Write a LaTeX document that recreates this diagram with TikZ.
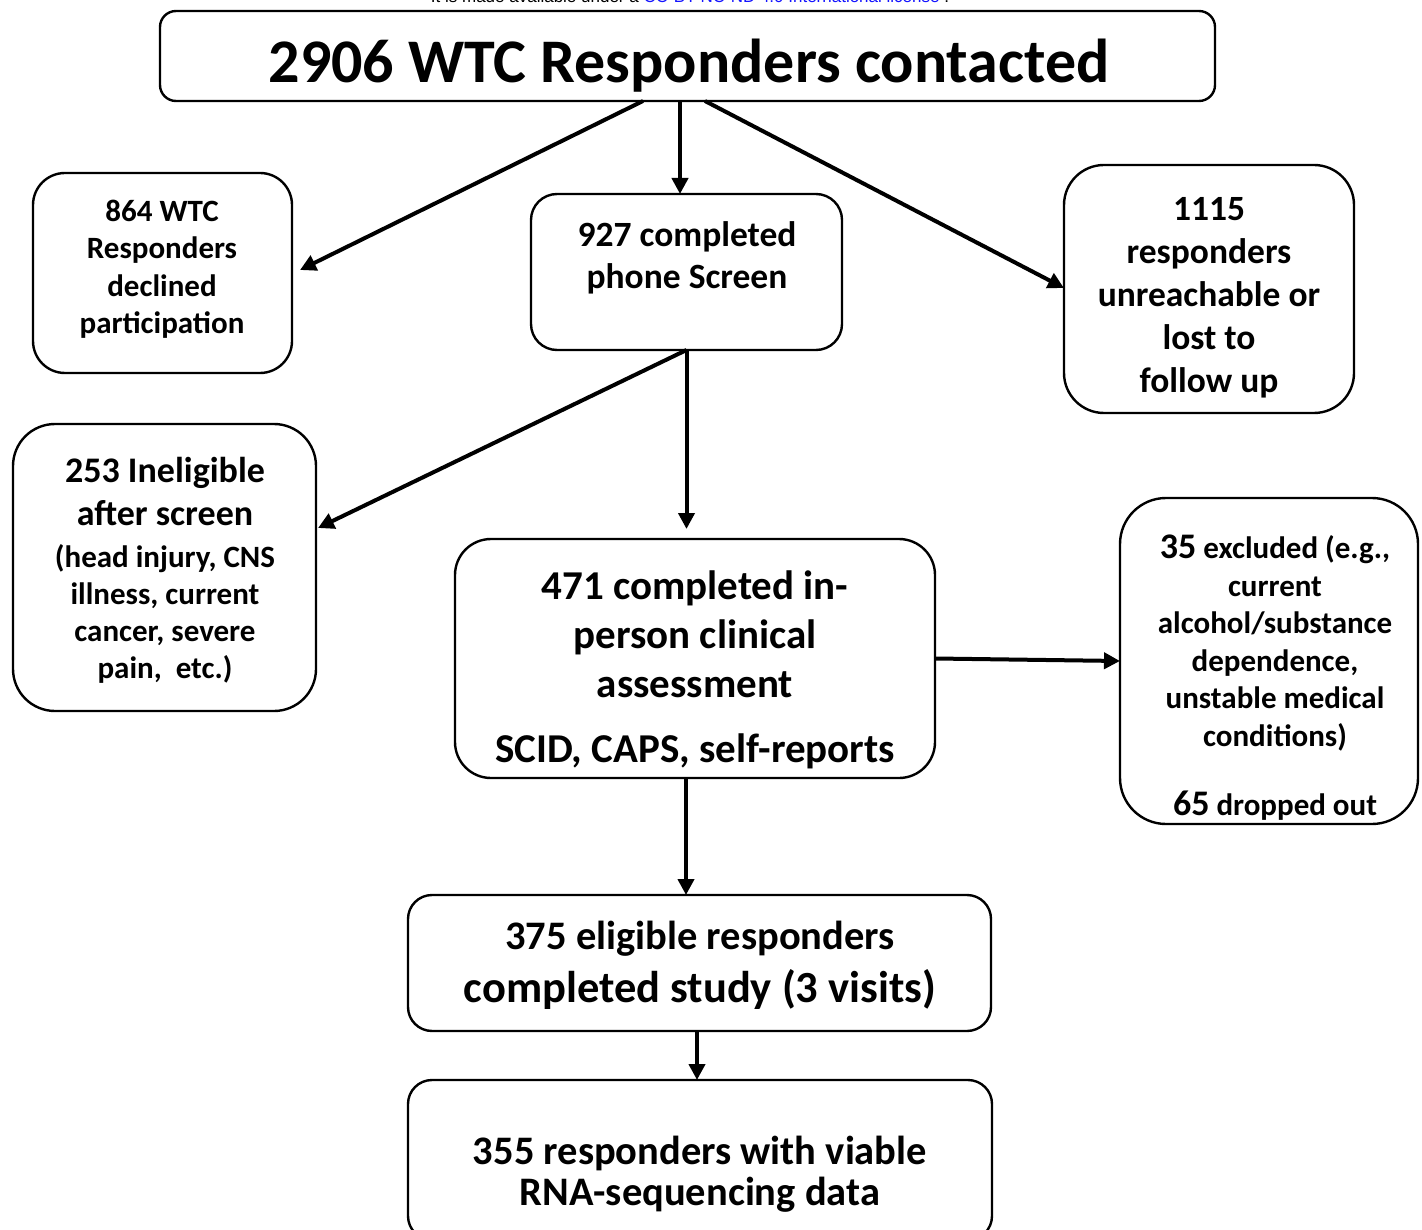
\documentclass[tikz,border=0pt]{standalone}
\usepackage{fontspec}
\setmainfont{Carlito}
\newfontfamily\hdrfont{Liberation Sans}
\usetikzlibrary{arrows.meta,calc}
\definecolor{linkblue}{RGB}{20,20,255}
\begin{document}
\begin{tikzpicture}[x=1pt,y=-1pt,
  box/.style={draw=black, line width=2.4pt, fill=white, inner sep=0pt, outer sep=0pt},
  txt/.style={align=center, inner sep=0pt, text=black},
  arr/.style={line width=4pt, -{Triangle[length=16pt,width=16pt]}}]
\useasboundingbox (0,0) rectangle (1422,1230);
\clip (0,0) rectangle (1422,1230);
\fill[white] (0,0) rectangle (1422,1230);

\node[font=\hdrfont\fontsize{17}{20}\selectfont, anchor=base, inner sep=0pt] (hdr) at (690,3)
  {It is made available under a \textcolor{linkblue}{CC-BY-NC-ND 4.0 International license} .};

% boxes
\node[box, minimum width=1055pt, minimum height=90pt, rounded corners=16pt] (top) at (687.5,56) {};
\node[box, minimum width=259pt, minimum height=200pt, rounded corners=32pt] (b864) at (162.5,273) {};
\node[box, minimum width=311pt, minimum height=156pt, rounded corners=26pt] (b927) at (686.5,272) {};
\node[box, minimum width=290pt, minimum height=248pt, rounded corners=40pt] (b1115) at (1209,289) {};
\node[box, minimum width=303pt, minimum height=287pt, rounded corners=42pt] (b253) at (164.5,567.5) {};
\node[box, minimum width=480pt, minimum height=239pt, rounded corners=36pt] (b471) at (695,658.5) {};
\node[box, minimum width=298pt, minimum height=326pt, rounded corners=46pt] (b35) at (1269,661) {};
\node[box, minimum width=583pt, minimum height=136pt, rounded corners=24pt] (b375) at (699.5,963) {};
\node[box, minimum width=584pt, minimum height=160pt, rounded corners=24pt] (b355) at (700,1160) {};

% texts
\node[txt, font=\fontsize{62}{70}\selectfont\bfseries] (ttop) at (689,66) {2906 WTC Responders contacted};
\node[txt, font=\fontsize{31}{37.5}\selectfont\bfseries] (t864) at (162,269)
  {864 WTC\\Responders\\declined\\participation};
\node[txt, font=\fontsize{35.5}{42}\selectfont\bfseries] (t927) at (687,258)
  {927 completed\\phone Screen};
\node[txt, font=\fontsize{35.5}{43}\selectfont\bfseries] (t1115) at (1209,298)
  {1115\\responders\\unreachable or\\lost to\\follow up};
\node[txt, font=\fontsize{31}{37}\selectfont\bfseries] (t253) at (165,570)
  {{\fontsize{36}{43}\selectfont 253 Ineligible}\\[6pt]{\fontsize{36}{43}\selectfont after screen}\\[5pt](head injury, CNS\\illness, current\\cancer, severe\\pain,~ etc.)};
\node[txt, font=\fontsize{41}{49}\selectfont\bfseries] (t471) at (695,670)
  {471 completed in-\\person clinical\\assessment\\[16pt]SCID, CAPS, self-reports};
\node[txt, font=\fontsize{31}{37.5}\selectfont\bfseries] (t35) at (1275,678)
  {{\fontsize{36}{43}\selectfont 35} excluded (e.g.,\\current\\alcohol/substance\\dependence,\\unstable medical\\conditions)\\[32pt]{\fontsize{36}{43}\selectfont 65} dropped out};
\node[txt, font=\fontsize{40.5}{53}\selectfont\bfseries] (t375) at (700,965)
  {375 eligible responders\\{\fontsize{44.5}{53}\selectfont completed study (3 visits)}};
\node[txt, font=\fontsize{40.5}{41}\selectfont\bfseries] (t355) at (700,1174)
  {355 responders with viable\\RNA-sequencing data};

% connectors
\draw[arr] ($(top.south)+(-44.5,0)$) -- ($(b864.east)+(8,-3)$);
\draw[arr] ($(top.south)+(-7.5,0)$) -- ($(b927.north)+(-6.5,0)$);
\draw[arr] ($(top.south)+(17.5,0)$) -- ($(b1115.west)+(0,-1)$);
\draw[arr] (b927.south) -- ($(b253.east)+(2,-39.5)$);
\draw[arr] (b927.south) -- ($(b471.north)+(-8.5,-10)$);
\draw[arr] (b471.east) -- (b35.west);
\draw[arr] ($(b471.south)+(-9,0)$) -- ($(b375.north)+(-13.5,0)$);
\draw[arr] ($(b375.south)+(-2.5,0)$) -- ($(b355.north)+(-3,0)$);
\end{tikzpicture}
\end{document}
